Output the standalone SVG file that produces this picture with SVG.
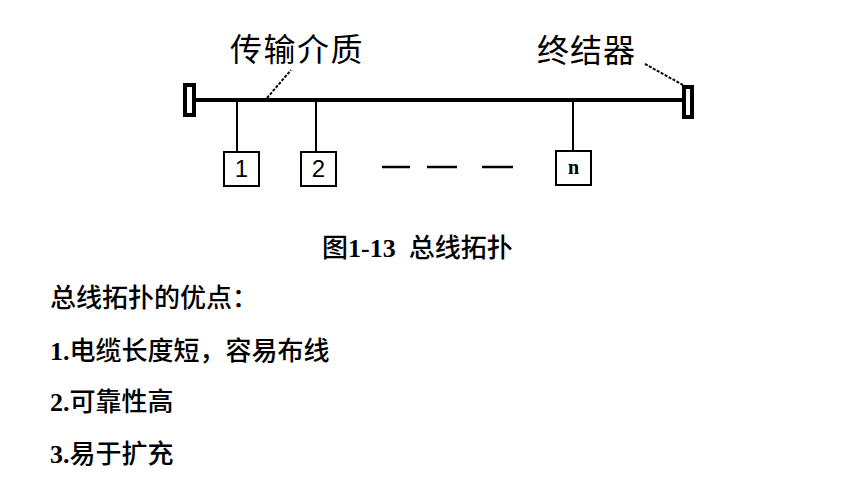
<svg xmlns="http://www.w3.org/2000/svg" width="848" height="483" viewBox="0 0 848 483">
<style>
.bus{stroke:#000;stroke-width:4;fill:none}
.stub{stroke:#000;stroke-width:2;fill:none}
.term{fill:#fff;stroke:#000;stroke-width:4}
.box{fill:#fff;stroke:#000;stroke-width:2}
.lead{stroke:#000;stroke-width:2;stroke-dasharray:3 1.5;fill:none}
.dash{stroke:#000;stroke-width:2.5}
.lbl{font-family:"Noto Sans CJK SC",sans-serif;font-size:32px;fill:#000}
.num{font-family:"Liberation Sans",sans-serif;font-size:24px;fill:#000;text-anchor:middle}
.body{font-family:"Liberation Serif","Noto Sans CJK SC",serif;font-size:26px;fill:#000}
.b{font-weight:bold}
.cn{font-family:"Noto Sans CJK SC",sans-serif;font-weight:500}
</style>
<rect width="848" height="483" fill="#fff"/>
<g id="connectors">
<line class="bus" x1="194" y1="100" x2="684" y2="100"/>
<line class="stub" x1="237" y1="100" x2="237" y2="152"/>
<line class="stub" x1="316" y1="100" x2="316" y2="152"/>
<line class="stub" x1="573" y1="100" x2="573" y2="151"/>
<line class="lead" x1="267" y1="98" x2="291" y2="70"/>
<line class="lead" x1="645" y1="64" x2="683" y2="85"/>
<line class="dash" x1="382" y1="167" x2="410" y2="167"/>
<line class="dash" x1="427" y1="167" x2="457" y2="167"/>
<line class="dash" x1="482" y1="167" x2="513" y2="167"/>
</g>
<g id="term-left"><rect class="term" x="185" y="85" width="9" height="30"/></g>
<g id="term-right"><rect class="term" x="684" y="87" width="8" height="30"/></g>
<g id="label-medium"><text class="lbl" x="230" y="61" letter-spacing="1.5">传输介质</text></g>
<g id="label-term"><text class="lbl" x="537" y="62" letter-spacing="1">终结器</text></g>
<g id="node1"><rect class="box" x="224" y="152" width="35" height="34"/><text class="num" x="241.5" y="177">1</text></g>
<g id="node2"><rect class="box" x="301" y="152" width="35" height="34"/><text class="num" x="318.5" y="177">2</text></g>
<g id="noden"><rect class="box" x="556" y="151" width="35" height="34"/><text x="573.5" y="174" font-family="Liberation Serif,serif" font-weight="bold" font-size="20" text-anchor="middle">n</text></g>
<g id="caption"><text class="body" x="322" y="257"><tspan class="cn" font-weight="bold">图</tspan><tspan class="b">1-13</tspan><tspan class="cn" dx="13">总线拓扑</tspan></text></g>
<g id="notes">
<text class="body" x="50" y="307"><tspan class="cn">总线拓扑的优点：</tspan></text>
<text class="body" x="50" y="360"><tspan class="b">1.</tspan><tspan class="cn">电缆长度短，容易布线</tspan></text>
<text class="body" x="50" y="411"><tspan class="b">2.</tspan><tspan class="cn">可靠性高</tspan></text>
<text class="body" x="50" y="463"><tspan class="b">3.</tspan><tspan class="cn">易于扩充</tspan></text>
</g>
</svg>
